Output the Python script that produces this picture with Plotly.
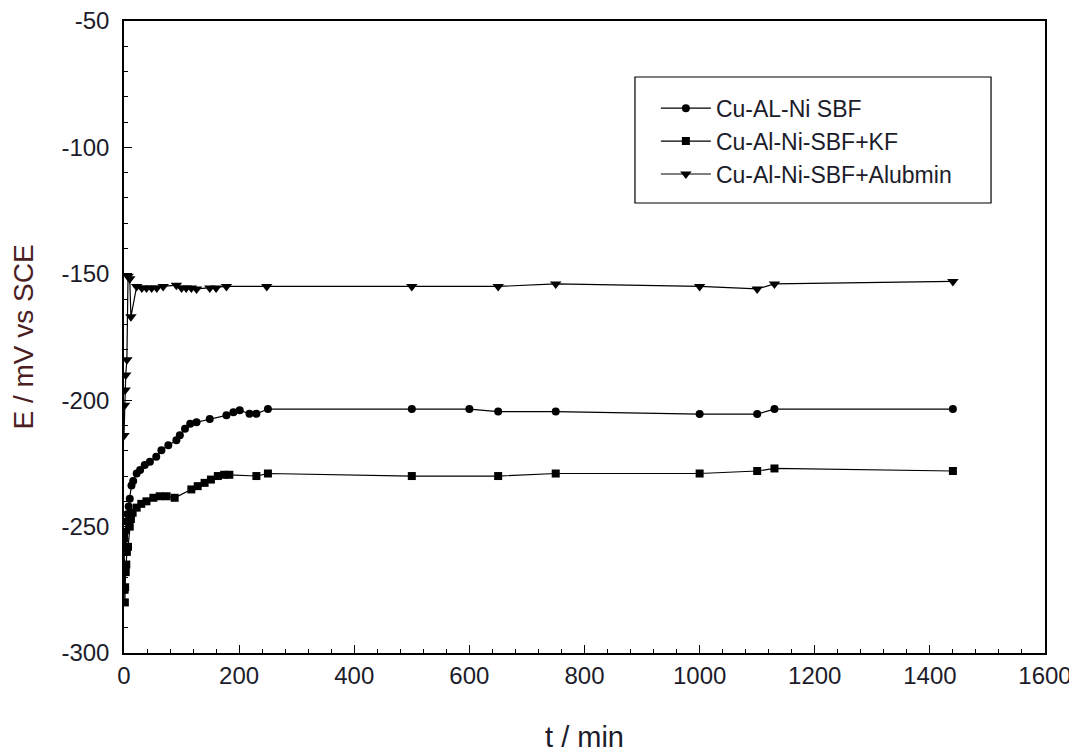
import plotly.graph_objects as go

# Cu-AL-Ni SBF (circles)
t_sbf = [0, 1, 2, 4, 6, 8, 10, 13, 16, 22, 28, 36, 45, 56, 65, 77, 91, 97, 106, 115, 126,
         149, 178, 190, 201, 218, 230, 250, 500, 600, 650, 750, 1000, 1100, 1130, 1440]
e_sbf = [-258, -255, -252, -248, -245, -242, -239, -233.7, -232, -229, -227.6, -225.6, -224.3,
         -222.4, -219.8, -217.8, -215.8, -213.9, -211.3, -209.3, -208.7, -207.4, -206, -204.8,
         -204, -205.4, -205.4, -203.5, -203.5, -203.5, -204.5, -204.5, -205.5, -205.5, -203.5, -203.5]

# Cu-Al-Ni-SBF+KF (squares)
t_kf = [0, 0.5, 1, 1.5, 2, 3, 4, 5, 7, 10, 12, 15, 22, 30, 39, 51, 62, 74, 88,
        117, 128, 140, 151, 163, 174, 183, 230, 250, 500, 650, 750, 1000, 1100, 1130, 1440]
e_kf = [-254, -260, -275, -280, -274, -268, -265, -260, -258, -250, -247, -244.5, -242.5, -241,
        -240, -238.6, -238, -238, -238.6, -235.3, -234, -232.7, -231.4, -230, -229.5, -229.5,
        -230, -229, -230, -230, -229, -229, -228, -227, -228]

# Cu-Al-Ni-SBF+Alubmin (down triangles)
t_alb = [0, 1, 2, 3, 5, 7, 10, 12, 22, 31, 39, 48, 57, 68, 91, 100, 108, 117, 126, 149, 160,
         178, 248, 500, 650, 750, 1000, 1100, 1130, 1440]
e_alb = [-214, -202, -196, -190, -184, -151, -152, -167, -155, -155.6, -155.6, -155.6, -155.6,
         -155, -154.5, -155.6, -155.6, -155.6, -156, -155.6, -155.6, -155, -155,
         -155, -155, -154, -155, -156, -154, -153]

names = ["Cu-AL-Ni SBF", "Cu-Al-Ni-SBF+KF", "Cu-Al-Ni-SBF+Alubmin"]

x_ticks = [0, 200, 400, 600, 800, 1000, 1200, 1400, 1600]
y_ticks = [-300, -250, -200, -150, -100, -50]
y_ticktext = [str(v) for v in y_ticks]  # hyphen-minus as in the original

fig = go.Figure()
fig.add_trace(go.Scatter(x=t_sbf, y=e_sbf, name=names[0], mode="lines+markers",
                         line=dict(color="black", width=1.2),
                         marker=dict(symbol="circle", size=8, color="black")))
fig.add_trace(go.Scatter(x=t_kf, y=e_kf, name=names[1], mode="lines+markers",
                         line=dict(color="black", width=1.2),
                         marker=dict(symbol="square", size=8, color="black")))
fig.add_trace(go.Scatter(x=t_alb, y=e_alb, name=names[2], mode="lines+markers",
                         line=dict(color="black", width=1.2),
                         marker=dict(symbol="triangle-down", size=10, color="black")))

font_main = "Liberation Sans, Arial, sans-serif"
txt = "#1c1c2a"
fig.update_layout(
    width=1069, height=745,
    margin=dict(l=116, r=32, t=13, b=100),
    paper_bgcolor="white", plot_bgcolor="white",
    font=dict(family=font_main, size=24, color=txt),
    showlegend=True,
    legend=dict(x=0.5775, y=0.896, xanchor="left", yanchor="top",
                bgcolor="rgba(0,0,0,0)", borderwidth=0,
                font=dict(size=23, color=txt), tracegroupgap=0,
                itemwidth=50),
    shapes=[dict(type="rect", xref="paper", yref="paper",
                 x0=0.5548, x1=0.9414, y0=0.712, y1=0.9114,
                 line=dict(color="black", width=1.2), fillcolor="rgba(0,0,0,0)")],
)
fig.update_xaxes(range=[0, 1600], tickvals=x_ticks, ticks="inside", ticklen=8, tickcolor="black",
                 minor=dict(ticks="inside", ticklen=4, dtick=40, tickcolor="black"),
                 showline=True, linecolor="black", linewidth=1.5, mirror=True,
                 showgrid=False, zeroline=False, automargin=False,
                 ticklabeloverflow="allow",
                 title=dict(text="t / min", font=dict(size=29, color=txt), standoff=40),
                 tickfont=dict(size=24, color=txt))
fig.update_yaxes(range=[-300, -50], tickvals=y_ticks, ticktext=y_ticktext,
                 ticks="inside", ticklen=8, tickcolor="black",
                 minor=dict(ticks="inside", ticklen=4, dtick=10, tickcolor="black"),
                 showline=True, linecolor="black", linewidth=1.5, mirror=True,
                 showgrid=False, zeroline=False, automargin=False,
                 ticklabeloverflow="allow",
                 title=dict(text="E / mV vs SCE", font=dict(size=28, color="#4a1e22"), standoff=22),
                 tickfont=dict(size=24, color=txt), ticklabelstandoff=8)

fig.write_html("out.html")
